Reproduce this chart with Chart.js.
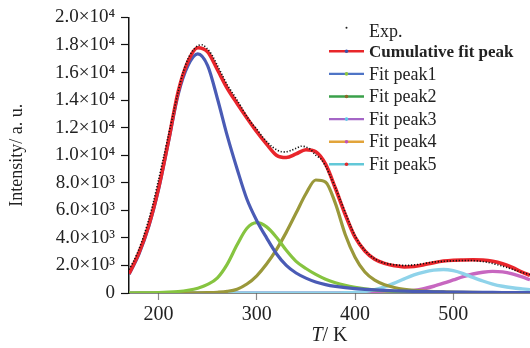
<!DOCTYPE html>
<html><head><meta charset="utf-8">
<script src="https://cdn.jsdelivr.net/npm/chart.js@4/dist/chart.umd.min.js"></script>
<style>html,body{margin:0;padding:0;background:#fff}#wrap{width:530px;height:348px;position:relative}</style>
</head><body><div id="wrap"><canvas id="c" width="530" height="348"></canvas></div>
<script>
// ---- data ----
const temperatures = [170,180,190,200,210,220,230,240,250,260,270,280,290,300,310,320,330,340,350,360,370,380,390,400,410,420,430,440,450,460,470,480,490,500,510,520,530,540,550,560,570,578];
const cumulativeFit = [1400,2900,4900,7600,11000,14600,16800,17800,17500,16200,14850,13750,12700,11700,10800,10000,9830,10100,10400,10250,9350,7600,5700,4050,3050,2450,2150,1980,1890,1920,2050,2200,2320,2380,2400,2410,2390,2300,2120,1850,1520,1280];
const fitPeak1 = [1350,2800,4800,7500,10900,14400,16500,17350,16500,14100,11400,9000,6800,5250,4000,2850,2000,1450,1080,800,610,480,390,320,270,225,190,160,135,115,100,85,75,65,57,50,44,39,35,31,28,26];
const fitPeak2 = [0,5,15,30,60,110,200,350,620,1100,2100,3500,4700,5100,4800,4050,3100,2300,1780,1350,1000,740,550,410,300,220,160,120,90,70,55,45,38,32,27,23,20,17,15,13,12,11];
const fitPeak3 = [0,0,0,0,0,0,5,10,25,55,120,280,650,1250,2100,3150,4400,5800,7200,8200,8050,6500,4250,2600,1520,930,600,400,270,190,140,105,80,62,50,41,34,29,25,22,19,17];
const fitPeak4 = [0,0,0,0,0,0,0,0,0,0,0,0,0,0,0,0,0,0,0,0,0,0,15,45,110,240,440,720,1030,1310,1520,1660,1710,1620,1410,1130,870,650,490,380,300,245];
const fitPeak5 = [0,0,0,0,0,0,0,0,0,0,0,0,0,0,0,0,0,0,0,0,0,0,0,0,0,0,15,45,95,180,310,490,710,950,1190,1380,1510,1570,1530,1390,1170,960];

const expTemperatures = [170,175,180,185,190,195,200,205,210,215,220,225,230,235,240,245,250,255,260,265,270,275,280,285,290,295,300,305,310,315,320,325,330,335,340,345,350,355,360,365,370,375,380,385,390,395,400,405,410,415,420,425,430,435,440,445,450,455,460,465,470,475,480,485,490,495,500,505,510,515,520,525,530,535,540,545,550,555,560,565,570,575,578];
const expIntensity = [1700,2350,3150,4150,5300,6650,8200,9800,11400,13000,14600,16000,17000,17600,17950,18000,17700,17200,16500,15800,15100,14550,14000,13400,12800,12300,11900,11400,11000,10650,10400,10250,10250,10350,10500,10650,10600,10400,10000,9750,9200,8450,7650,6750,5850,4950,4150,3550,3100,2740,2480,2300,2180,2100,2050,2020,2000,2010,2040,2080,2140,2200,2250,2280,2300,2320,2340,2350,2360,2360,2350,2320,2280,2220,2140,2050,1950,1840,1720,1600,1490,1390,1340];

const seriesLabels = ['Exp.','Cumulative fit peak','Fit peak1','Fit peak2','Fit peak3','Fit peak4','Fit peak5'];
const xTickValues = [200,300,400,500];
const yTickValues = [0,2000,4000,6000,8000,10000,12000,14000,16000,18000,20000];
const yTickLabels = ['0','2.0×10³','4.0×10³','6.0×10³','8.0×10³','1.0×10⁴','1.2×10⁴','1.4×10⁴','1.6×10⁴','1.8×10⁴','2.0×10⁴'];
const xAxisTitle = ['T','/ K'];
const yAxisTitle = 'Intensity/ a. u.';

// ---- styles ----
const SERIF = "'Liberation Serif', 'Times New Roman', serif";
const plotColors = ['#111111','#e9252b','#4a5bb5','#86c440','#9a983a','#8fd3ea','#c767c0'];
const legendLine = [null,'#e8262a','#4e74c6','#3aa04a','#a466c6','#e2a43a','#62c8d8'];
const legendDot  = ['#222','#3a52a8','#8cc63f','#8a6a2a','#5cc8e6','#c052b6','#e02a2a'];

const toPts = (xs, ys) => xs.map((x, i) => ({x, y: ys[i]}));
const fits = [cumulativeFit, fitPeak1, fitPeak2, fitPeak3, fitPeak4, fitPeak5];

const datasets = [{
  label: seriesLabels[0],
  data: toPts(expTemperatures, expIntensity),
  borderColor: plotColors[0], borderWidth: 1.6, borderDash: [1.2, 1.8],
  pointRadius: 0, tension: 0.3, fill: false
}].concat(fits.map((arr, k) => ({
  label: seriesLabels[k + 1],
  data: toPts(temperatures, arr),
  borderColor: plotColors[k + 1],
  borderWidth: k === 0 ? 3.6 : (k >= 4 ? 3.4 : 3.2),
  pointRadius: 0, cubicInterpolationMode: 'monotone', fill: false
})));

const legendPlugin = {
  id: 'refLegend',
  afterDraw(chart) {
    const ctx = chart.ctx, ca = chart.chartArea;
    const x0 = ca.left + 200, x1 = ca.left + 235, tx = ca.left + 240;
    ctx.save();
    seriesLabels.forEach((lab, i) => {
      const y = ca.top + 11.3 + i * 22.6;
      if (legendLine[i]) {
        ctx.strokeStyle = legendLine[i]; ctx.lineWidth = 2.4;
        ctx.beginPath(); ctx.moveTo(x0, y); ctx.lineTo(x1, y); ctx.stroke();
        ctx.fillStyle = legendDot[i];
        ctx.beginPath(); ctx.arc((x0 + x1) / 2, y, 1.8, 0, Math.PI * 2); ctx.fill();
      } else {
        ctx.fillStyle = legendDot[i];
        ctx.beginPath(); ctx.arc((x0 + x1) / 2, y - 1, 1, 0, Math.PI * 2); ctx.fill();
      }
      ctx.fillStyle = '#222';
      ctx.textBaseline = 'middle'; ctx.textAlign = 'left';
      ctx.font = (i === 1 ? 'bold 17px ' : '18px ') + SERIF;
      ctx.fillText(lab, tx, i === 0 ? y + 4 : y + 1);
    });
    // x axis title with italic T
    const cx = (ca.left + ca.right) / 2, ty = 336;
    ctx.font = 'italic 20px ' + SERIF;
    const w1 = ctx.measureText(xAxisTitle[0]).width;
    ctx.font = '20px ' + SERIF;
    const w2 = ctx.measureText(xAxisTitle[1]).width;
    const sx = cx - (w1 + w2) / 2;
    ctx.textBaseline = 'middle';
    ctx.font = 'italic 20px ' + SERIF; ctx.fillText(xAxisTitle[0], sx, ty);
    ctx.font = '20px ' + SERIF; ctx.fillText(xAxisTitle[1], sx + w1, ty);
    ctx.restore();
  }
};

new Chart(document.getElementById('c'), {
  type: 'line',
  data: { datasets },
  options: {
    responsive: false, animation: false, devicePixelRatio: 1,
    layout: { padding: { top: 12, right: 0, left: 0, bottom: 0 } },
    plugins: { legend: { display: false }, tooltip: { enabled: false } },
    scales: {
      x: {
        type: 'linear', min: 170, max: 578,
        afterBuildTicks: s => { s.ticks = xTickValues.map(v => ({ value: v })); },
        afterFit: s => { s.height = 55; },
        ticks: { font: { family: SERIF, size: 20 }, color: '#222', padding: 3, maxRotation: 0 },
        grid: { drawOnChartArea: false, drawTicks: true, tickLength: 7, tickColor: '#8a8a8a', tickWidth: 1.2 },
        border: { color: '#111', width: 1.5 }
      },
      y: {
        min: 0, max: 20000,
        afterBuildTicks: s => { s.ticks = yTickValues.map(v => ({ value: v })); },
        afterFit: s => { s.width = 129; },
        ticks: { font: { family: SERIF, size: 19 }, color: '#222', padding: 6,
                 callback: v => yTickLabels[yTickValues.indexOf(v)] },
        grid: { drawOnChartArea: false, drawTicks: true, tickLength: 8, tickColor: '#111', tickWidth: 1.2 },
        border: { color: '#111', width: 1.5 },
        title: { display: true, text: yAxisTitle, font: { family: SERIF, size: 18 }, color: '#222', padding: { top: 6, bottom: 0 } }
      }
    }
  },
  plugins: [legendPlugin]
});
</script></body></html>
